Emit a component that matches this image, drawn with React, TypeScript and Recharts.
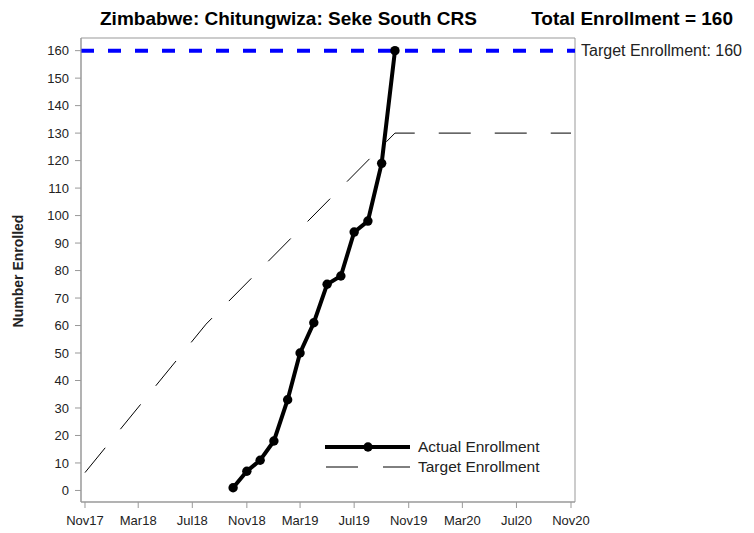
import { LineChart, Line, XAxis, YAxis, ReferenceLine, ReferenceArea } from 'recharts'

const actualDates = ['2018-10-01', '2018-11-01', '2018-12-01', '2019-01-01', '2019-02-01', '2019-03-01', '2019-04-01', '2019-05-01', '2019-06-01', '2019-07-01', '2019-08-01', '2019-09-01', '2019-10-01']
const actualValues = [1, 7, 11, 18, 33, 50, 61, 75, 78, 94, 98, 119, 160]

const targetDates = ['2017-11-01', '2018-08-01', '2019-10-01', '2020-11-01']
const targetValues = [6.5, 60.5, 130, 130]

const tickDates = ['2017-11-01', '2018-03-01', '2018-07-01', '2018-11-01', '2019-03-01', '2019-07-01', '2019-11-01', '2020-03-01', '2020-07-01', '2020-11-01']
const tickLabels = ['Nov17', 'Mar18', 'Jul18', 'Nov18', 'Mar19', 'Jul19', 'Nov19', 'Mar20', 'Jul20', 'Nov20']

const yTicks = [0, 10, 20, 30, 40, 50, 60, 70, 80, 90, 100, 110, 120, 130, 140, 150, 160]
const targetTotal = 160

const DAY = 86400000
const ts = (s: string) => Date.parse(s + 'T00:00:00Z')

const actual = actualDates.map((d, i) => ({ t: ts(d), v: actualValues[i] }))
const target = targetDates.map((d, i) => ({ t: ts(d), v: targetValues[i] }))
const ticks = tickDates.map(ts)
const labelFor = (t: number) => tickLabels[ticks.indexOf(t)] ?? ''

const xMin = ts('2017-11-01') - 9 * DAY
const xMax = ts('2020-11-01') + 9 * DAY
const yMin = -4.2
const yMax = 164.6

const font = '"Liberation Sans", Arial, sans-serif'
const axisGray = '#999'

// label to the right of the plot, beside the blue target line
const TargetLabel = (props: any) => {
  const vb = props.viewBox || {}
  return (
    <text x={vb.x + vb.width + 6} y={vb.y} dy={5.5} fontSize={16} fill="#222" fontFamily={font}>
      Target Enrollment: {targetTotal}
    </text>
  )
}

export default function App() {
  return (
    <div style={{ position: 'absolute', left: 0, top: 0, width: 754, height: 533, background: '#fff', fontFamily: font }}>
      <LineChart width={754} height={533} margin={{ top: 38, right: 179, bottom: 1, left: 41 }}>
        <ReferenceArea x1={xMin} x2={xMax} y1={yMin} y2={yMax} fill="none" stroke={axisGray} strokeWidth={1} ifOverflow="visible" />
        <XAxis
          dataKey="t"
          type="number"
          domain={[xMin, xMax]}
          ticks={ticks}
          tickFormatter={labelFor}
          allowDataOverflow
          height={30}
          tickSize={6}
          tickMargin={8}
          stroke={axisGray}
          tick={{ fill: '#222', fontSize: 13, fontFamily: font }}
        />
        <YAxis
          type="number"
          domain={[yMin, yMax]}
          ticks={yTicks}
          allowDataOverflow
          width={40}
          tickSize={6}
          tickMargin={6}
          stroke={axisGray}
          tick={{ fill: '#222', fontSize: 13, fontFamily: font }}
        />
        <ReferenceLine y={targetTotal} stroke="#0000ff" strokeWidth={4} strokeDasharray="13 14" label={TargetLabel} />
        <Line data={target} dataKey="v" type="linear" stroke="#000" strokeWidth={1} strokeDasharray="32 24" dot={false} isAnimationActive={false} />
        <Line data={actual} dataKey="v" type="linear" stroke="#000" strokeWidth={4} dot={{ r: 4.7, fill: '#000', stroke: '#000', strokeWidth: 0 }} isAnimationActive={false} />
      </LineChart>
      <svg width={754} height={533} style={{ position: 'absolute', left: 0, top: 0, pointerEvents: 'none' }}>
        <text x={100} y={25} fontSize={19} fontWeight="bold" fill="#000" fontFamily={font}>Zimbabwe: Chitungwiza: Seke South CRS</text>
        <text x={733} y={25} fontSize={19} fontWeight="bold" fill="#000" fontFamily={font} textAnchor="end">Total Enrollment = {targetTotal}</text>
        <text x={0} y={0} transform="translate(23,271) rotate(-90)" fontSize={14} fontWeight="bold" fill="#222" fontFamily={font} textAnchor="middle">Number Enrolled</text>
        <line x1={325} y1={447} x2={410} y2={447} stroke="#000" strokeWidth={4} />
        <circle cx={368} cy={447} r={4.7} fill="#000" />
        <text x={418} y={452} fontSize={15.5} fill="#222" fontFamily={font}>Actual Enrollment</text>
        <line x1={326} y1={467} x2={358} y2={467} stroke="#000" strokeWidth={1} />
        <line x1={383} y1={467} x2={410} y2={467} stroke="#000" strokeWidth={1} />
        <text x={418} y={472} fontSize={15.5} fill="#222" fontFamily={font}>Target Enrollment</text>
      </svg>
    </div>
  )
}
